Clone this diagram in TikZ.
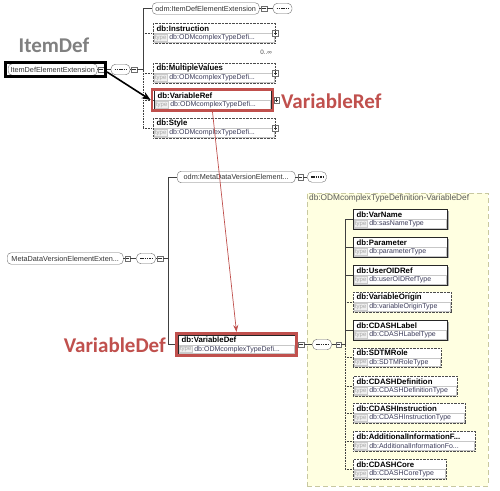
\documentclass[tikz,border=0pt]{standalone}
\usepackage{fontspec}
\setmainfont{Liberation Sans}
\newfontfamily\calib{Carlito}
\usetikzlibrary{shadows,arrows.meta}
\definecolor{redc}{HTML}{C0504D}
\definecolor{yel}{HTML}{FFFFE1}
\definecolor{yelb}{HTML}{C8C8A0}
\definecolor{typec}{HTML}{3C3C5A}
\definecolor{boxg}{HTML}{6E6E6E}
\tikzset{
 rbox/.style={draw=boxg, rounded corners=4pt, fill=white, inner sep=0, minimum height=11.5pt, text=black!80, font=\fontsize{7.3}{8}\selectfont, anchor=west},
 elbox/.style={fill=white, inner sep=0, minimum height=19.5pt, anchor=west},
 solidel/.style={draw=black!85, drop shadow={shadow xshift=1.3pt, shadow yshift=-1.3pt, fill=black!30, opacity=1}},
 dotel/.style={draw=black!70, densely dotted},
 eltitle/.style={inner sep=0, anchor=west, font=\bfseries\fontsize{7.8}{8}\selectfont},
 typelbl/.style={inner sep=0.6pt, anchor=west, draw=black!20, fill=black!6, text=black!35, font=\fontsize{6}{7}\selectfont},
 typetxt/.style={inner sep=0, anchor=west, text=typec, font=\fontsize{7}{8}\selectfont},
 plusbox/.style={draw=boxg, fill=white, minimum size=5.5pt, inner sep=0, path picture={\draw[black!80,line width=0.45pt] ([xshift=1.1pt]path picture bounding box.west) -- ([xshift=-1.1pt]path picture bounding box.east) ([yshift=1.1pt]path picture bounding box.south) -- ([yshift=-1.1pt]path picture bounding box.north);}},
 minusbox/.style={draw=boxg, fill=white, minimum size=5.5pt, inner sep=0, path picture={\draw[black!80,line width=0.45pt] ([xshift=1.1pt]path picture bounding box.west) -- ([xshift=-1.1pt]path picture bounding box.east);}},
 seqbox/.style={draw=boxg, fill=white, rounded corners=4.5pt, minimum width=19pt, minimum height=10.5pt, inner sep=0, path picture={\draw[black!85, line width=1.2pt, dash pattern=on 1.5pt off 0.8pt] ([xshift=3.5pt]path picture bounding box.west) -- ([xshift=-3.5pt]path picture bounding box.east);}},
 redframe/.style={draw=redc, line width=2.6pt, inner sep=0},
 bigtxt/.style={font=\calib\bfseries\fontsize{21}{24}\selectfont, inner sep=0},
 conn/.style={draw=black!75, line width=0.6pt},
 dconn/.style={conn, densely dotted},
}
\newcommand{\xel}[7]{%
 \node[elbox,#7,minimum width={#4-#2}] (#1) at (#2,#3) {};
 \draw[black!22] ({#2+0.8},{#3+0.4}) rectangle ({#4-0.8},{#3+8.9});
 \node[eltitle] (#1t) at ({#2+3.5},{#3-4.6}) {#5};
 \node[typelbl] (#1k) at ({#2+1.2},{#3+4.7}) {type};
 \node[typetxt] (#1y) at ([xshift=2pt]#1k.east) {#6};
}
\begin{document}
\begin{tikzpicture}[x=1pt,y=-1pt]
\fill[white] (0,0) rectangle (500,490);
\path[use as bounding box] (0,0) rectangle (500,490);

% yellow complex type panel
\node[draw=yelb, dash pattern=on 5pt off 3pt, fill=yel, minimum width=181pt, minimum height=293pt, anchor=north west, inner sep=0] (ctype) at (307,193) {};
\node[anchor=west, inner sep=0, text=black!65, font=\fontsize{8.3}{9}\selectfont] (ctypet) at (309,198.5) {db:ODMcomplexTypeDefinition-VariableDef};

% ---------- top: ItemDefElementExtension ----------
\node[rbox, minimum width=89pt] (iext) at (8,69.5) {ItemDefElementExtension};
\node[minusbox] (iextm) at (101,69.5) {};
\node[seqbox] (iexts) at (120.5,69.5) {};
\node[minusbox] (iextm2) at (134,69.5) {};
\coordinate (b1top) at (143,8.5);
\coordinate (b1mid) at (143,69.5);
\coordinate (b1bot) at (143,128);

\node[rbox, minimum width=107pt] (odm1) at (152,8.5) {odm:ItemDefElementExtension};
\node[minusbox] (odm1m) at (264,8.5) {};
\node[seqbox] (odm1s) at (282.5,8.5) {};

\xel{instr}{153}{33}{275}{db:Instruction}{db:ODMcomplexTypeDefi...}{dotel}
\xel{multi}{153}{73}{275}{db:MultipleValues}{db:ODMcomplexTypeDefi...}{dotel}
\xel{vref}{154}{100}{271}{db:VariableRef}{db:ODMcomplexTypeDefi...}{solidel}
\xel{styl}{153}{128}{275}{db:Style}{db:ODMcomplexTypeDefi...}{dotel}
\node[plusbox] (instrp) at (instr.east) {};
\node[plusbox] (multip) at (multi.east) {};
\node[plusbox] (stylp) at (styl.east) {};
\node[inner sep=0, text=black!70, font=\fontsize{6.3}{7}\selectfont] (instrocc) at (266,52) {0..∞};

% ---------- middle ----------
\node[rbox, minimum width=118pt] (odm2) at (177,177) {odm:MetaDataVersionElement...};
\node[minusbox] (odm2m) at (300.5,177) {};
\node[seqbox] (odm2s) at (317,177) {};

\node[rbox, minimum width=116pt] (mdv) at (7,258.5) {MetaDataVersionElementExten...};
\node[minusbox] (mdvm) at (127.5,258.5) {};
\node[seqbox] (mdvs) at (146,258.5) {};
\node[minusbox] (mdvm2) at (160,258.5) {};
\coordinate (b2top) at (168,177);
\coordinate (b2bot) at (168,344.5);

\xel{vdef}{178}{344.5}{295}{db:VariableDef}{db:ODMcomplexTypeDefi...}{solidel}

% ---------- right children ----------
\coordinate (b3top) at (345,219);
\coordinate (b3mid) at (345,344.5);
\coordinate (b3bot) at (345,469);
\xel{c1}{353}{219}{447}{db:VarName}{db:sasNameType}{solidel}
\xel{c2}{353}{247}{447}{db:Parameter}{db:parameterType}{solidel}
\xel{c3}{353}{275}{447}{db:UserOIDRef}{db:userOIDRefType}{solidel}
\xel{c4}{353}{302}{451}{db:VariableOrigin}{db:variableOriginType}{dotel}
\xel{c5}{353}{330}{447}{db:CDASHLabel}{db:CDASHLabelType}{solidel}
\xel{c6}{353}{357.5}{441}{db:SDTMRole}{db:SDTMRoleType}{dotel}
\xel{c7}{353}{386}{457}{db:CDASHDefinition}{db:CDASHDefinitionType}{dotel}
\xel{c8}{353}{413}{465}{db:CDASHInstruction}{db:CDASHInstructionType}{dotel}
\xel{c9}{353}{441}{475}{db:AdditionalInformationF...}{db:AdditionalInformationFo...}{dotel}
\xel{c10}{353}{469}{446}{db:CDASHCore}{db:CDASHCoreType}{dotel}

% ---------- connectors ----------
\draw[conn] (iext.east) -- (iextm.west);
\draw[conn] (iextm.east) -- (iexts.west);
\draw[conn] (iexts.east) -- (iextm2.west);
\draw[conn] (iextm2.east) -- (b1mid);
\draw[conn] (b1top) -- (b1mid);
\draw[dconn] (b1mid) -- (b1bot);
\draw[conn] (b1top) -- (odm1.west);
\draw[conn] (odm1.east) -- (odm1m.west);
\draw[conn] (odm1m.east) -- (odm1s.west);
\draw[dconn] (b1top |- instr.west) -- (instr.west);
\draw[dconn] (b1top |- multi.west) -- (multi.west);
\draw[dconn] (b1top |- vref.west) -- (vref.west);
\draw[dconn] (b1top |- styl.west) -- (styl.west);

\draw[conn] (mdv.east) -- (mdvm.west);
\draw[conn] (mdvm.east) -- (mdvs.west);
\draw[conn] (mdvs.east) -- (mdvm2.west);
\draw[conn] (mdvm2.east) -- (b2top |- mdvm2.east);
\draw[conn] (b2top) -- (b2bot);
\draw[conn] (b2top) -- (odm2.west);
\draw[conn] (b2bot) -- (vdef.west);
\draw[conn] (odm2.east) -- (odm2m.west);
\draw[conn] (odm2m.east) -- (odm2s.west);

\node[minusbox] (vdefm) at (301,344.5) {};
\node[seqbox] (vdefs) at (322,344.5) {};
\node[minusbox] (vdefm2) at (338.5,344.5) {};
\draw[conn] (vdef.east) -- (vdefm.west);
\draw[conn] (vdefm.east) -- (vdefs.west);
\draw[conn] (vdefs.east) -- (vdefm2.west);
\draw[conn] (vdefm2.east) -- (b3mid);
\draw[conn] (b3top) -- (b3mid);
\draw[dconn] (b3mid) -- (b3bot);
\foreach \c in {c1,c2,c3,c5} \draw[conn] (b3top |- \c.west) -- (\c.west);
\foreach \c in {c4,c6,c7,c8,c9,c10} \draw[dconn] (b3top |- \c.west) -- (\c.west);

% ---------- highlight frames ----------
\node[draw=black, line width=2.6pt, inner sep=0, minimum width=100.5pt, minimum height=14.5pt] (iframe) at (55.5,69.5) {};
\node[redframe, minimum width=121pt, minimum height=21.5pt] (vrefframe) at (212.5,100) {};
\node[plusbox] (vrefp) at (276.5,100) {};
\node[redframe, minimum width=120.5pt, minimum height=22.4pt] (vdefframe) at (236.5,344.5) {};

% ---------- arrows ----------
\draw[black, line width=1.6pt, -{Stealth[length=9pt,width=7pt]}] ([yshift=-2.5pt]iframe.east) -- (vrefframe.west);
\draw[draw=redc, line width=0.7pt, -{Stealth[length=7pt,width=5pt]}] (vrefframe.south) -- (vdefframe.north);

% ---------- labels ----------
\node[bigtxt, text=black!50] (itemdeflbl) at (54,45) {ItemDef};
\node[bigtxt, text=redc, anchor=west] (vreflbl) at (281,101) {VariableRef};
\node[bigtxt, text=redc, anchor=east] (vdeflbl) at (166,345) {VariableDef};
\end{tikzpicture}
\end{document}
